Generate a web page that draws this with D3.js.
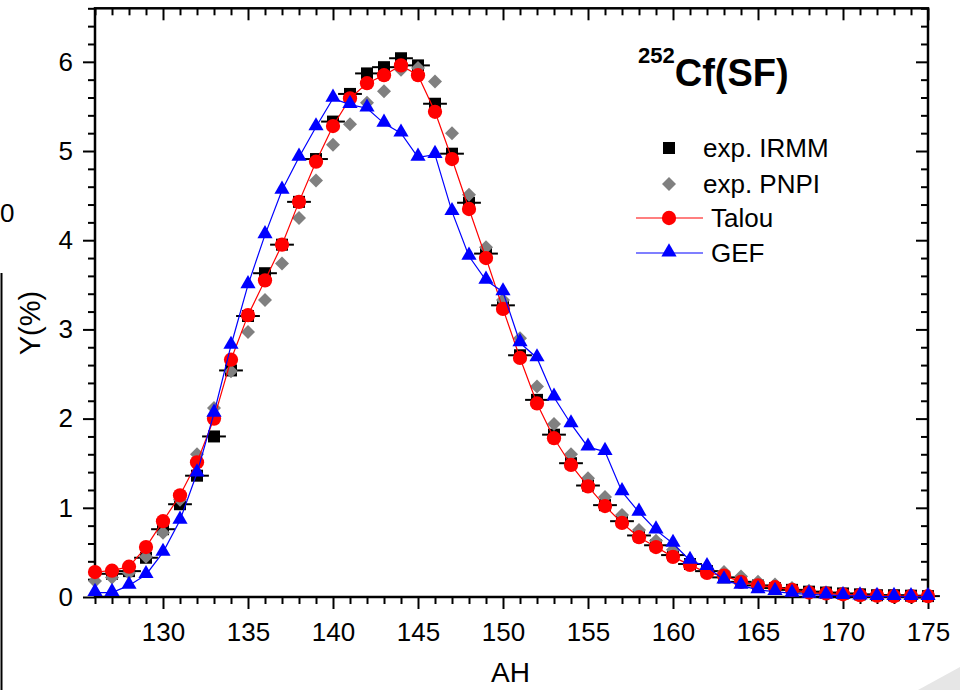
<!DOCTYPE html>
<html>
<head>
<meta charset="utf-8">
<script src="https://cdn.jsdelivr.net/npm/d3@7"></script>
<style>
  html, body { margin: 0; padding: 0; background: #fff; }
  svg { display: block; font-family: "Liberation Sans", Arial, sans-serif; }
</style>
</head>
<body>
<svg id="chart" width="960" height="690"></svg>
<script>
// ---------------- data ----------------
const massTalou = d3.range(126, 176);
const talou = [0.28,0.295,0.34,0.56,0.85,1.14,1.51,2.0,2.66,3.16,3.55,3.95,4.43,4.88,5.28,5.59,5.76,5.85,5.96,5.85,
  5.44,4.91,4.35,3.80,3.23,2.68,2.17,1.78,1.48,1.24,1.02,0.83,0.67,0.56,0.45,0.36,0.27,0.24,0.17,0.13,
  0.11,0.08,0.05,0.04,0.03,0.02,0.015,0.01,0.01,0.01];
const massGef = d3.range(126, 176);
const gef = [0.05,0.05,0.13,0.25,0.5,0.86,1.39,2.06,2.82,3.5,4.06,4.56,4.93,5.27,5.59,5.52,5.48,5.31,5.2,4.93,
  4.96,4.32,3.82,3.55,3.42,2.85,2.68,2.24,1.94,1.68,1.63,1.18,0.95,0.75,0.6,0.41,0.34,0.19,0.13,0.08,
  0.06,0.04,0.03,0.02,0.015,0.01,0.005,0.004,0.003,0.003];
const massIrmm = d3.range(127, 176);
const irmm = [0.26,0.29,0.44,0.76,1.04,1.36,1.8,2.54,3.15,3.63,3.95,4.43,4.91,5.33,5.64,5.87,5.94,6.04,5.96,
  5.53,4.97,4.42,3.85,3.27,2.71,2.21,1.82,1.5,1.25,1.03,0.85,0.69,0.58,0.47,0.37,0.29,0.22,0.17,0.13,
  0.1,0.08,0.06,0.05,0.04,0.03,0.02,0.02,0.015,0.01];
const irmmXErr = 0.7;
const massPnpi = d3.range(126, 176);
const pnpi = [0.18,0.22,0.27,0.45,0.72,1.09,1.6,2.12,2.53,2.97,3.33,3.74,4.25,4.67,5.07,5.3,5.54,5.67,5.91,5.93,
  5.78,5.2,4.51,3.92,3.33,2.9,2.36,1.94,1.6,1.33,1.12,0.92,0.75,0.63,0.53,0.4,0.32,0.28,0.23,0.17,
  0.14,0.1,0.07,0.05,0.04,0.03,0.02,0.015,0.01,0.01];

const xMajorTicks = [130,135,140,145,150,155,160,165,170,175];
const yMajorTicks = [0,1,2,3,4,5,6];
const legendLabels = ["exp. IRMM", "exp. PNPI", "Talou", "GEF"];
const xTitle = "AH", yTitle = "Y(%)";

// ---------------- layout ----------------
const svg = d3.select("#chart");
const L = 95, R = 928, T = 8.3, B = 597;
const x = d3.scaleLinear().domain([126, 175]).range([L, R]);
const y = d3.scaleLinear().domain([0, 6.6]).range([B, T]);

// page-curl shadow bottom-right
svg.append("polygon").attr("points", "918,690 960,667 960,690").attr("fill", "#e6e6e6");

// partial neighbouring panel at the left edge
svg.append("line").attr("x1", 1.5).attr("x2", 1.5).attr("y1", 273).attr("y2", 690)
  .attr("stroke", "#000").attr("stroke-width", 2);
svg.append("text").attr("x", 0).attr("y", 222).attr("text-anchor", "start")
  .attr("font-size", 26).text("0");

// ---------------- axes ----------------
const minorX = d3.range(126, 176).filter(v => v % 5 !== 0);
const minorY = d3.range(0, 34).map(i => +(i * 0.2).toFixed(1)).filter(v => Math.abs(v - Math.round(v)) > 1e-6);

function styleAxis(g) {
  g.select(".domain").remove();
  g.selectAll(".tick line").attr("stroke", "#000").attr("stroke-width", 2);
  g.selectAll(".tick text").attr("font-size", 26).attr("fill", "#000")
    .attr("font-family", "'Liberation Sans', Arial, sans-serif");
}

// bottom
svg.append("g").attr("transform", `translate(0,${B})`)
  .call(d3.axisBottom(x).tickValues(minorX).tickSize(7).tickFormat(""))
  .call(styleAxis);
svg.append("g").attr("transform", `translate(0,${B})`)
  .call(d3.axisBottom(x).tickValues(xMajorTicks).tickSize(12).tickPadding(14).tickFormat(d3.format("d")))
  .call(styleAxis);
// top (inward)
svg.append("g").attr("transform", `translate(0,${T})`)
  .call(d3.axisTop(x).tickValues(minorX).tickSize(-7).tickFormat(""))
  .call(styleAxis);
svg.append("g").attr("transform", `translate(0,${T})`)
  .call(d3.axisTop(x).tickValues(xMajorTicks).tickSize(-12).tickFormat(""))
  .call(styleAxis);
// left
svg.append("g").attr("transform", `translate(${L},0)`)
  .call(d3.axisLeft(y).tickValues(minorY).tickSize(7).tickFormat(""))
  .call(styleAxis);
svg.append("g").attr("transform", `translate(${L},0)`)
  .call(d3.axisLeft(y).tickValues(yMajorTicks).tickSize(12).tickPadding(10).tickFormat(d3.format("d")))
  .call(styleAxis);
// right (inward)
svg.append("g").attr("transform", `translate(${R},0)`)
  .call(d3.axisRight(y).tickValues(minorY).tickSize(-7).tickFormat(""))
  .call(styleAxis);
svg.append("g").attr("transform", `translate(${R},0)`)
  .call(d3.axisRight(y).tickValues(yMajorTicks).tickSize(-12).tickFormat(""))
  .call(styleAxis);

// frame
svg.append("rect").attr("x", L).attr("y", T).attr("width", R - L).attr("height", B - T)
  .attr("fill", "none").attr("stroke", "#000").attr("stroke-width", 2.5);

// axis titles
svg.append("text").attr("x", (L + R) / 2 - 1).attr("y", 682).attr("text-anchor", "middle")
  .attr("font-size", 28).text(xTitle);
svg.append("text").attr("transform", "translate(40,323) rotate(-90)").attr("text-anchor", "middle")
  .attr("font-size", 29).text(yTitle);

// ---------------- series ----------------
const plot = svg.append("g");
const sq = d3.symbol().type(d3.symbolSquare).size(144);
const diam = d3.symbol().type(d3.symbolSquare).size(98);
const circ = d3.symbol().type(d3.symbolCircle).size(160);
const tri = d3.symbol().type(d3.symbolTriangle).size(100);

// IRMM: squares with horizontal error bars
const irmmData = massIrmm.map((a, i) => ({ a, v: irmm[i] }));
plot.append("g").selectAll("line").data(irmmData).join("line")
  .attr("x1", d => x(d.a - irmmXErr)).attr("x2", d => x(d.a + irmmXErr))
  .attr("y1", d => y(d.v)).attr("y2", d => y(d.v))
  .attr("stroke", "#000").attr("stroke-width", 2);
plot.append("g").selectAll("path").data(irmmData).join("path")
  .attr("d", sq).attr("transform", d => `translate(${x(d.a)},${y(d.v)})`).attr("fill", "#000");

// PNPI: gray diamonds
const pnpiData = massPnpi.map((a, i) => ({ a, v: pnpi[i] }));
plot.append("g").selectAll("path").data(pnpiData).join("path")
  .attr("d", diam).attr("transform", d => `translate(${x(d.a)},${y(d.v)}) rotate(45)`).attr("fill", "#808080");

// Talou: red line + circles
const talouData = massTalou.map((a, i) => ({ a, v: talou[i] }));
const line = d3.line().x(d => x(d.a)).y(d => y(d.v));
plot.append("path").datum(talouData).attr("d", line).attr("fill", "none")
  .attr("stroke", "#ff0000").attr("stroke-width", 1.2);
plot.append("g").selectAll("path").data(talouData).join("path")
  .attr("d", circ).attr("transform", d => `translate(${x(d.a)},${y(d.v)})`).attr("fill", "#ff0000");

// GEF: blue line + triangles
const gefData = massGef.map((a, i) => ({ a, v: gef[i] }));
plot.append("path").datum(gefData).attr("d", line).attr("fill", "none")
  .attr("stroke", "#0000ff").attr("stroke-width", 1.2);
plot.append("g").selectAll("path").data(gefData).join("path")
  .attr("d", tri).attr("transform", d => `translate(${x(d.a)},${y(d.v) - 1})`).attr("fill", "#0000ff");

// ---------------- title ----------------
const title = svg.append("text").attr("x", 638).attr("y", 86).attr("font-weight", "bold");
title.append("tspan").attr("font-size", 22).attr("dy", -23).text("252");
title.append("tspan").attr("font-size", 38).attr("dy", 23).text("Cf(SF)");

// ---------------- legend ----------------
const lg = svg.append("g");
const lgY = [148, 184, 218, 253];
const lgX = 669;
lg.append("path").attr("d", sq).attr("transform", `translate(${lgX},${lgY[0]})`).attr("fill", "#000");
lg.append("path").attr("d", diam).attr("transform", `translate(${lgX},${lgY[1]}) rotate(45)`).attr("fill", "#808080");
lg.append("line").attr("x1", 636).attr("x2", 703).attr("y1", lgY[2]).attr("y2", lgY[2])
  .attr("stroke", "#ff0000").attr("stroke-width", 1.2);
lg.append("path").attr("d", circ).attr("transform", `translate(${lgX},${lgY[2]})`).attr("fill", "#ff0000");
lg.append("line").attr("x1", 636).attr("x2", 703).attr("y1", lgY[3]).attr("y2", lgY[3])
  .attr("stroke", "#0000ff").attr("stroke-width", 1.2);
lg.append("path").attr("d", tri).attr("transform", `translate(${lgX},${lgY[3] - 1})`).attr("fill", "#0000ff");
const lgTextX = [703, 703, 711, 711];
legendLabels.forEach((t, i) => {
  lg.append("text").attr("x", lgTextX[i]).attr("y", lgY[i] + 9).attr("font-size", 26).text(t);
});
</script>
</body>
</html>
